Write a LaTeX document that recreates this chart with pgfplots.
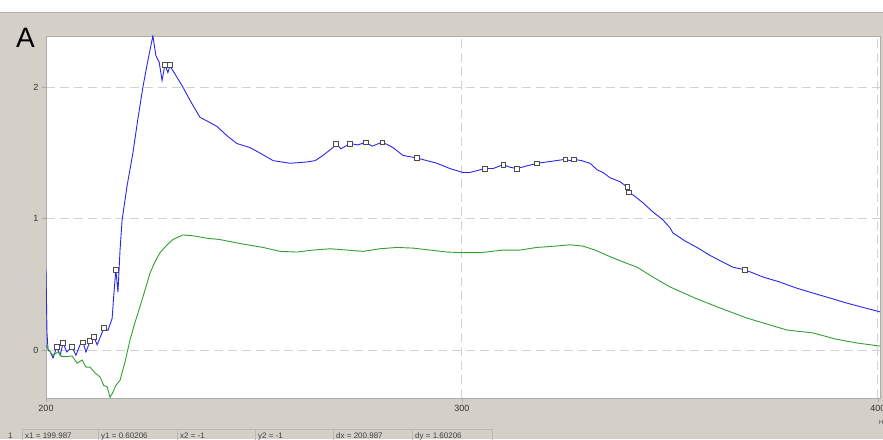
\documentclass[border=0pt]{standalone}
\usepackage{fontspec}
\setmainfont{Liberation Sans}
\usepackage{pgfplots}
\pgfplotsset{compat=1.18}
\definecolor{winbg}{RGB}{212,208,200}
\definecolor{specblue}{RGB}{40,40,235}
\definecolor{specgreen}{RGB}{50,160,50}
\begin{document}
\begin{tikzpicture}
\useasboundingbox (0,0) rectangle (883pt,439pt);
\clip (0,0) rectangle (883pt,439pt);
\fill[winbg] (0,0) rectangle (883pt,439pt);
\fill[white] (0,427pt) rectangle (883pt,439pt);
\draw[gray!60] (0,426.5pt) -- (883pt,426.5pt);
\node[anchor=base west, font=\fontsize{28}{30}\selectfont, inner sep=0pt] at (16pt,391pt) {A};

\begin{axis}[
  at={(46pt,41pt)}, anchor=south west,
  scale only axis, width=834pt, height=362pt,
  xmin=200, xmax=400.5, ymin=-0.365, ymax=2.388,
  xtick={200,300,400}, ytick={0,1,2},
  tick pos=left, tick align=outside, major tick length=4pt,
  tick style={gray!70},
  grid=major,
  grid style={gray!35, line width=1pt, dash pattern=on 9pt off 5pt},
  axis line style={gray!65},
  axis background/.style={fill=white},
  /pgf/number format/assume math mode=true,
  ticklabel style={font=\fontsize{9}{10}\selectfont, text=black!80},
  clip marker paths=true,
]
% blue trace
\addplot[specblue, line width=0.9pt] coordinates {
(200,0.608) (200.24,0.13) (200.5,0) (201,-0.015) (201.7,-0.06) (202.6,0.023)
(203.4,-0.04) (204.1,0.053) (205,-0.015) (206.25,0.023) (207.2,-0.04) (208.2,0.04)
(208.9,0.06) (209.6,-0.015) (210.6,0.068) (211.5,0.1) (212.3,0.04) (213.2,0.11)
(213.9,0.167) (214.9,0.15) (215.9,0.24) (216.3,0.42) (216.8,0.61) (217.3,0.44)
(217.8,0.76) (218.3,0.99) (219.5,1.25) (220.9,1.50) (222.1,1.76) (223.3,2.0)
(224.3,2.17) (225.0,2.28) (225.7,2.39) (226.4,2.24) (227.2,2.19) (227.9,2.05)
(228.6,2.17) (229.3,2.11) (229.8,2.16) (230.8,2.11) (232.9,2.0) (234.6,1.90)
(237.0,1.77) (239.4,1.73) (241.1,1.70) (243.5,1.63) (245.9,1.57) (249.0,1.54)
(251.9,1.49) (254.6,1.44) (258.7,1.42) (262.7,1.43) (264.7,1.44) (266.6,1.48)
(269.0,1.54) (269.7,1.57) (270.9,1.53) (273.1,1.57) (275.0,1.56) (276.9,1.58)
(278.4,1.55) (280.8,1.58) (282.2,1.56) (283.4,1.54) (285.8,1.48) (289.2,1.46)
(291.6,1.44) (294.0,1.42) (297.1,1.38) (300.2,1.35) (301.9,1.35) (305.5,1.38)
(307.5,1.38) (309.9,1.41) (311.5,1.39) (313.2,1.38) (315.6,1.40) (318.0,1.42)
(320.4,1.43) (322.6,1.44) (324.8,1.45) (326.0,1.44) (326.9,1.45) (328.8,1.44)
(330.8,1.42) (332.5,1.37) (333.9,1.35) (335.6,1.31) (338.0,1.28) (339.7,1.24)
(340.1,1.19) (341.1,1.18) (343.5,1.12) (345.9,1.05) (348.3,0.99) (350.0,0.93)
(350.7,0.89) (351.7,0.87) (353.6,0.83) (356.5,0.78) (359.6,0.72) (362.0,0.68)
(365.1,0.63) (368.0,0.61) (372.4,0.555) (376.4,0.517) (380.5,0.47) (384.4,0.433)
(388.5,0.395) (392.5,0.357) (396.9,0.32) (400.5,0.29)
};
% green trace
\addplot[specgreen, line width=0.9pt] coordinates {
(200,0.04) (200.2,0.023) (201,-0.015) (201.7,-0.04) (202.9,-0.015) (203.8,-0.05)
(205,-0.05) (206.25,-0.045) (207.5,-0.1) (208.7,-0.076) (209.6,-0.13) (210.6,-0.13)
(211.8,-0.175) (213.0,-0.205) (213.9,-0.27) (214.7,-0.28) (215.4,-0.36) (216.1,-0.32)
(216.8,-0.27) (217.8,-0.23) (219.0,-0.09) (220.2,0.076) (221.4,0.21) (222.6,0.33)
(223.8,0.456) (225.0,0.585) (226.2,0.67) (227.4,0.74) (228.8,0.79) (230.5,0.84)
(232.9,0.875) (235.8,0.867) (238.7,0.85) (241.8,0.84) (246.6,0.81) (252.2,0.78)
(256.3,0.75) (260.3,0.745) (264.2,0.76) (268.3,0.77) (272.4,0.76) (276.2,0.75)
(280.3,0.77) (284.4,0.78) (288.2,0.775) (292.3,0.76) (296.4,0.745) (300.2,0.74)
(304.3,0.74) (309.9,0.76) (313.9,0.76) (318.0,0.78) (322.4,0.79) (326.0,0.80)
(329.1,0.79) (332.0,0.76) (335.6,0.71) (338.7,0.67) (342.1,0.63) (345.9,0.555)
(350.0,0.48) (356.0,0.395) (362.0,0.32) (368.5,0.243) (378.1,0.152) (384.4,0.13)
(389.7,0.084) (395.0,0.053) (400.5,0.03)
};
% peak markers
\addplot[only marks, mark=square*, mark size=2.3pt,
  mark options={fill=white, draw=black!70, line width=0.6pt}] coordinates {
(202.6,0.023) (204.1,0.053) (206.25,0.023) (208.9,0.06) (210.6,0.068) (211.5,0.1)
(213.9,0.167) (216.8,0.61) (225.7,2.39) (228.6,2.17) (229.8,2.17) (269.7,1.57)
(273.1,1.57) (276.9,1.58) (280.8,1.58) (289.2,1.46) (305.5,1.38) (309.9,1.41)
(313.2,1.38) (318.0,1.42) (324.8,1.45) (326.9,1.45) (339.7,1.24) (340.1,1.2)
(368.0,0.61)
};
\end{axis}

\node[anchor=base, font=\fontsize{6}{7}\selectfont, text=black!70] at (881pt,15pt) {H};
% status bar
\begin{scope}[font=\fontsize{8}{9}\selectfont, text=black!75]
\node[anchor=base west, inner sep=0pt] at (8pt,1pt) {1};
\foreach \xa/\xb/\t in {22/98/{x1 = 199.987}, 98/177/{y1 = 0.60206}, 177/255/{x2 = -1},
  255/333/{y2 = -1}, 333/412/{dx = 200.987}, 412/492/{dy = 1.60206}} {
  \draw[gray!55] (\xa pt,-3pt) rectangle (\xb pt,10pt);
  \node[anchor=base west, inner sep=0pt] at ({\xa pt+3pt},1pt) {\t};
}
\end{scope}
\end{tikzpicture}
\end{document}
